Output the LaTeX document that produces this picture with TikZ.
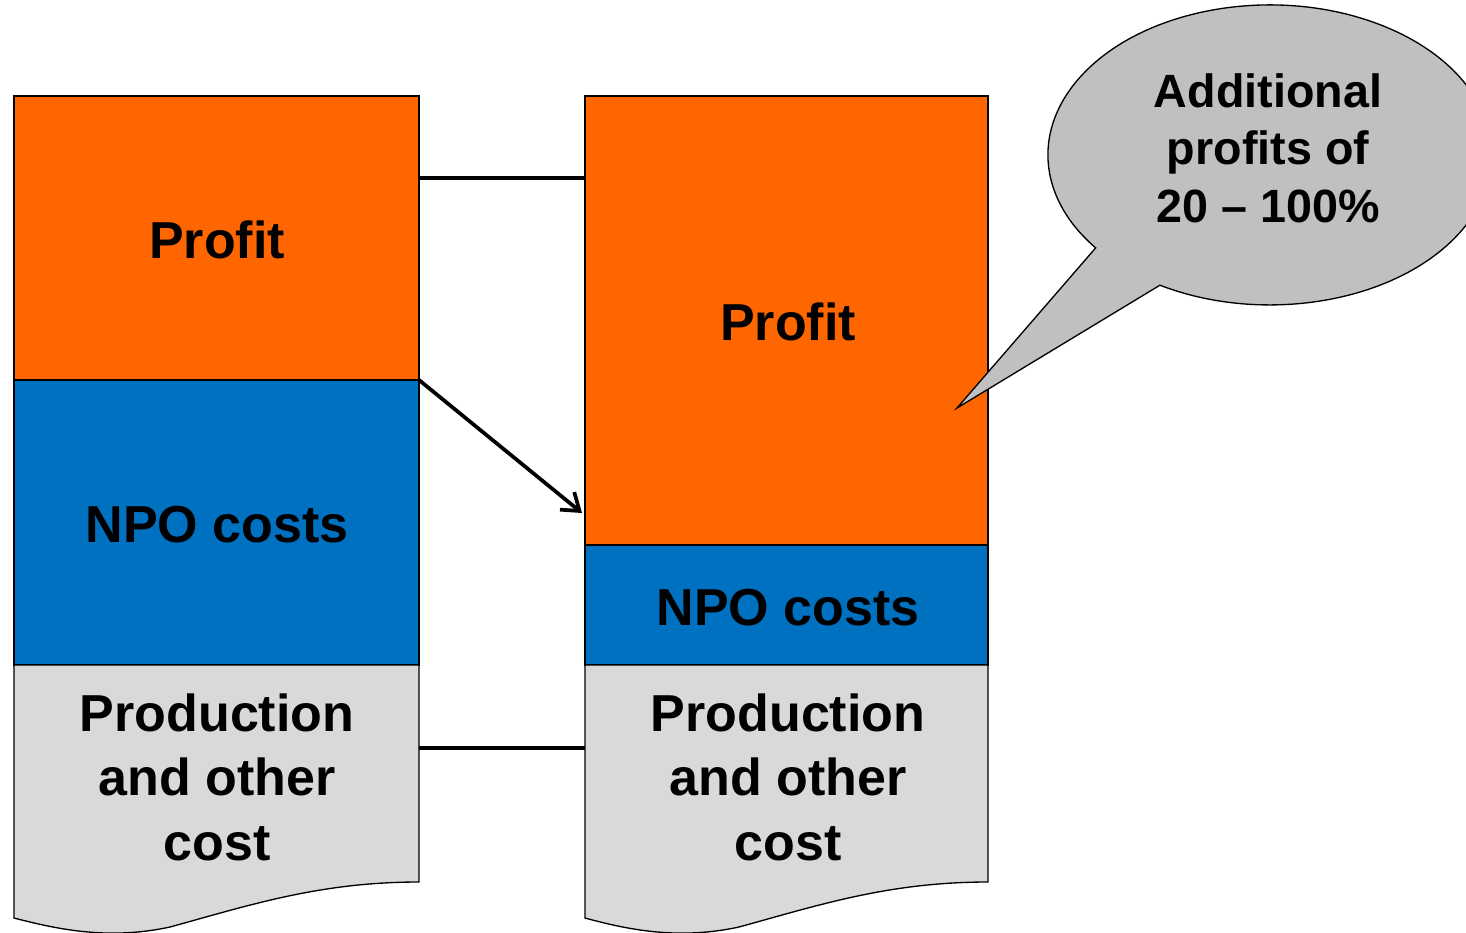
\documentclass[tikz,border=0pt]{standalone}
\usepackage{fontspec}
\setmainfont{Liberation Sans}
\usetikzlibrary{arrows.meta}
\definecolor{porange}{HTML}{FF6600}
\definecolor{pblue}{HTML}{0070C0}
\definecolor{plight}{HTML}{D9D9D9}
\definecolor{pcallout}{HTML}{C0C0C0}
\tikzset{
  boxline/.style={draw=black, line width=1pt},
  conn/.style={draw=black, line width=2.8pt},
  bigtext/.style={align=center, font=\fontsize{39}{48.4}\selectfont\bfseries, inner sep=0pt},
  calltext/.style={align=center, font=\fontsize{35}{43}\selectfont\bfseries, inner sep=0pt},
}
\begin{document}
\begin{tikzpicture}[x=0.75pt,y=-0.75pt]
\useasboundingbox (0,0) rectangle (1466,932);
% left column
\path[boxline, fill=porange] (14,96) rectangle (419,380);
\path[boxline, fill=pblue] (14,380) rectangle (419,665);
\path[boxline, fill=plight] (14,665) -- (419,665) -- (419,882)
  .. controls (320,882) and (250,905) .. (170,927)
  .. controls (110,940) and (60,930) .. (14,918) -- cycle;
% right column
\path[boxline, fill=porange] (585,96) rectangle (988,545);
\path[boxline, fill=pblue] (585,545) rectangle (988,665);
\path[boxline, fill=plight] (585,665) -- (988,665) -- (988,882)
  .. controls (889,882) and (819,905) .. (739,927)
  .. controls (679,940) and (629,930) .. (585,918) -- cycle;
% callout
\coordinate (cc) at (1270,155);
\coordinate (t1) at (1095.8,248);
\coordinate (tip) at (957,408);
\coordinate (t2) at (1159.9,285.2);
\begin{scope}
\clip (0,0) rectangle (1466,932);
\path[boxline, fill=pcallout]
  (t2) arc[start angle=119.7, end angle=-218.3, x radius=222, y radius=150] -- (tip) -- cycle;
\end{scope}
% texts
\node[bigtext] (lprofit) at (217,240) {Profit};
\node[bigtext] (lnpo) at (217,525) {NPO costs};
\node[bigtext] (lprod) at (217,777) {Production\\and other\\cost};
\node[bigtext] (rprofit) at (788,322) {Profit};
\node[bigtext] (rnpo) at (788,608) {NPO costs};
\node[bigtext] (rprod) at (788,777) {Production\\and other\\cost};
\node[calltext] (call) at (1268,148) {Additional\\profits of\\20 – 100\%};
% connectors
\coordinate (a1) at (419,178);
\coordinate (b1) at (585,178);
\coordinate (a2) at (419,380);
\coordinate (b2) at (582,513);
\coordinate (a3) at (419,748);
\coordinate (b3) at (585,748);
\draw[conn] (a1) -- (b1);
\draw[conn] (a3) -- (b3);
\draw[conn, -{Straight Barb[length=12pt,width=17pt,line width=2.8pt]}] (a2) -- (b2);
\end{tikzpicture}
\end{document}
